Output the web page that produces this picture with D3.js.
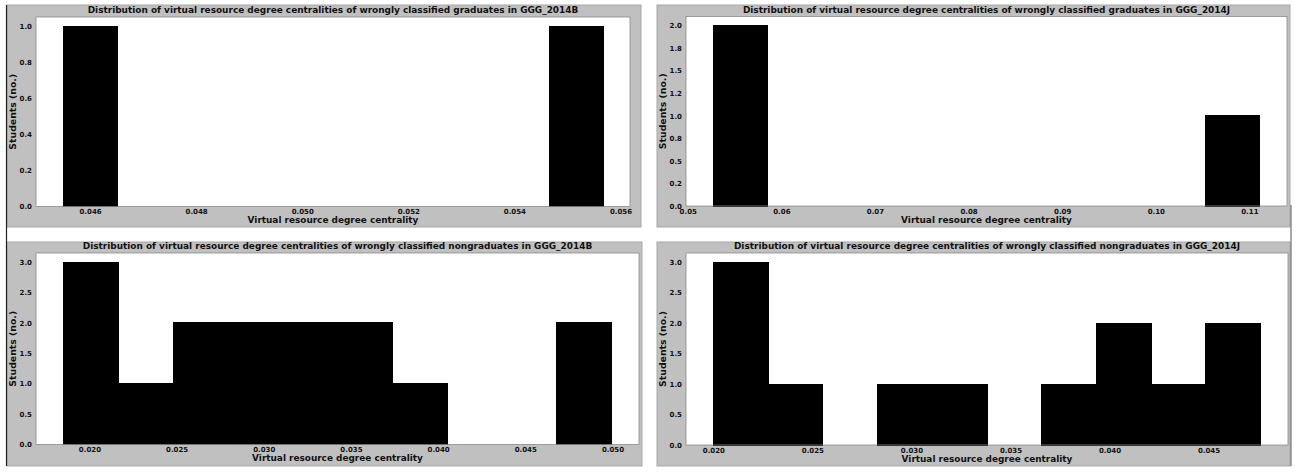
<!DOCTYPE html>
<html>
<head>
<meta charset="utf-8">
<script src="https://cdn.jsdelivr.net/npm/d3@7"></script>
<style>
html,body{margin:0;padding:0;background:#fff;}
svg{display:block;font-family:"DejaVu Sans",sans-serif;font-weight:bold;}
</style>
</head>
<body>
<svg id="chart" width="1296" height="472"></svg>
<script>
// ---------------- data ----------------
const titles = [
  "Distribution of virtual resource degree centralities of wrongly classified graduates in GGG_2014B",
  "Distribution of virtual resource degree centralities of wrongly classified graduates in GGG_2014J",
  "Distribution of virtual resource degree centralities of wrongly classified nongraduates in GGG_2014B",
  "Distribution of virtual resource degree centralities of wrongly classified nongraduates in GGG_2014J"
];
const xLabel = "Virtual resource degree centrality";
const yLabel = "Students (no.)";

// histogram ranges (min, max of values) and counts of the 10 bins
const gradB_range = [0.04549, 0.05567];
const gradB_counts = [1, 0, 0, 0, 0, 0, 0, 0, 0, 1];
const gradJ_range = [0.05273, 0.11110];
const gradJ_counts = [2, 0, 0, 0, 0, 0, 0, 0, 0, 1];
const nongradB_range = [0.018507, 0.04995];
const nongradB_counts = [3, 1, 2, 2, 2, 2, 1, 0, 0, 2];
const nongradJ_range = [0.0200, 0.04763];
const nongradJ_counts = [3, 1, 0, 1, 1, 0, 1, 2, 1, 2];

// tick values and labels
const gradB_xticks = [0.046, 0.048, 0.050, 0.052, 0.054, 0.056];
const gradB_xlabels = ["0.046", "0.048", "0.050", "0.052", "0.054", "0.056"];
const gradJ_xticks = [0.05, 0.06, 0.07, 0.08, 0.09, 0.10, 0.11];
const gradJ_xlabels = ["0.05", "0.06", "0.07", "0.08", "0.09", "0.10", "0.11"];
const nongradB_xticks = [0.020, 0.025, 0.030, 0.035, 0.040, 0.045, 0.050];
const nongradB_xlabels = ["0.020", "0.025", "0.030", "0.035", "0.040", "0.045", "0.050"];
const nongradJ_xticks = [0.020, 0.025, 0.030, 0.035, 0.040, 0.045];
const nongradJ_xlabels = ["0.020", "0.025", "0.030", "0.035", "0.040", "0.045"];

const gradB_yticks = [0, 0.2, 0.4, 0.6, 0.8, 1.0];
const gradB_ylabels = ["0.0", "0.2", "0.4", "0.6", "0.8", "1.0"];
const gradJ_yticks = [0, 0.25, 0.5, 0.75, 1.0, 1.25, 1.5, 1.75, 2.0];
const gradJ_ylabels = ["0.0", "0.2", "0.5", "0.8", "1.0", "1.2", "1.5", "1.8", "2.0"];
const nongrad_yticks = [0, 0.5, 1.0, 1.5, 2.0, 2.5, 3.0];
const nongrad_ylabels = ["0.0", "0.5", "1.0", "1.5", "2.0", "2.5", "3.0"];

// ---------------- layout ----------------
const layout = [
  {g: [7, 5, 634, 222],  p: [36, 17, 594, 189.5]},
  {g: [657, 5, 633, 222], p: [686, 16.5, 601, 189.5]},
  {g: [7, 242, 635, 224], p: [36, 253, 603, 191.5]},
  {g: [657, 242, 633, 224], p: [686, 253, 602, 192]}
];

const panels = [
  {title: titles[0], range: gradB_range, counts: gradB_counts, xt: gradB_xticks, xl: gradB_xlabels, yt: gradB_yticks, yl: gradB_ylabels},
  {title: titles[1], range: gradJ_range, counts: gradJ_counts, xt: gradJ_xticks, xl: gradJ_xlabels, yt: gradJ_yticks, yl: gradJ_ylabels},
  {title: titles[2], range: nongradB_range, counts: nongradB_counts, xt: nongradB_xticks, xl: nongradB_xlabels, yt: nongrad_yticks, yl: nongrad_ylabels},
  {title: titles[3], range: nongradJ_range, counts: nongradJ_counts, xt: nongradJ_xticks, xl: nongradJ_xlabels, yt: nongrad_yticks, yl: nongrad_ylabels}
];

const svg = d3.select("#chart");
const GRAY = "#c0c0c0";

// measure helper for font sizing
function fitSize(text, target, base) {
  const t = svg.append("text").attr("font-size", base).text(text);
  const w = t.node().getComputedTextLength();
  t.remove();
  return base * target / w;
}
const titleSize = fitSize(titles[0], 491, 8);
const xLabelSize = fitSize(xLabel, 171, 9);
const yLabelSize = fitSize(yLabel, 76, 9);
const tickSize = 7;

panels.forEach((pn, i) => {
  const L = layout[i];
  const [gx, gy, gw, gh] = L.g;
  const [px, py, pw, ph] = L.p;
  const g = svg.append("g");

  g.append("rect").attr("x", gx).attr("y", gy).attr("width", gw).attr("height", gh)
    .attr("fill", GRAY).attr("stroke", "#a8a8a8").attr("stroke-width", 1);

  const n = pn.counts.length;
  const lo = pn.range[0], hi = pn.range[1];
  const bw = (hi - lo) / n;
  const bins = pn.counts.map((c, k) => ({x0: lo + k * bw, x1: lo + (k + 1) * bw, c}));
  const span = hi - lo;
  const x = d3.scaleLinear().domain([lo - 0.05 * span, hi + 0.05 * span]).range([px, px + pw]);
  const maxC = d3.max(pn.counts);
  const y = d3.scaleLinear().domain([0, maxC * 1.05]).range([py + ph, py]);

  g.append("rect").attr("x", px).attr("y", py).attr("width", pw).attr("height", ph)
    .attr("fill", "#fff");

  g.selectAll("rect.bar").data(bins.filter(b => b.c > 0)).join("rect")
    .attr("class", "bar")
    .attr("x", d => x(d.x0)).attr("width", d => x(d.x1) - x(d.x0))
    .attr("y", d => y(d.c)).attr("height", d => y(0) - y(d.c))
    .attr("fill", "#000").attr("stroke", "#000").attr("stroke-width", 1)
    .attr("shape-rendering", "crispEdges");

  g.append("rect").attr("x", px).attr("y", py).attr("width", pw).attr("height", ph)
    .attr("fill", "none").attr("stroke", "#8a8a8a").attr("stroke-width", 0.8);

  // x axis
  const xAxis = d3.axisBottom(x).tickValues(pn.xt).tickFormat((d, k) => pn.xl[k]).tickSize(0).tickPadding(3);
  const xa = g.append("g").attr("transform", `translate(0,${py + ph})`).call(xAxis);
  xa.select(".domain").remove();
  xa.selectAll("text").attr("font-size", tickSize).attr("font-family", "DejaVu Sans").attr("font-weight", "bold").attr("fill", "#111");

  // y axis
  const yAxis = d3.axisLeft(y).tickValues(pn.yt).tickFormat((d, k) => pn.yl[k]).tickSize(0).tickPadding(4);
  const ya = g.append("g").attr("transform", `translate(${px},0)`).call(yAxis);
  ya.select(".domain").remove();
  ya.selectAll("text").attr("font-size", tickSize).attr("font-family", "DejaVu Sans").attr("font-weight", "bold").attr("fill", "#111");

  // title
  g.append("text").attr("x", px + pw / 2).attr("y", py - 6.2)
    .attr("text-anchor", "middle").attr("dominant-baseline", "middle")
    .attr("font-size", titleSize).attr("fill", "#111").text(pn.title);

  // x label
  g.append("text").attr("x", px + pw / 2).attr("y", py + ph + 14.3)
    .attr("text-anchor", "middle").attr("dominant-baseline", "middle")
    .attr("font-size", xLabelSize).attr("fill", "#111").text(xLabel);

  // y label
  g.append("text").attr("transform", `translate(${gx + 6.5},${py + ph / 2}) rotate(-90)`)
    .attr("text-anchor", "middle").attr("dominant-baseline", "middle")
    .attr("font-size", yLabelSize).attr("fill", "#111").text(yLabel);
});

// scan border lines
svg.append("line").attr("x1", 6.5).attr("x2", 6.5).attr("y1", 5).attr("y2", 466)
  .attr("stroke", "#222").attr("stroke-width", 1.2);
svg.append("line").attr("x1", 1291).attr("x2", 1291).attr("y1", 205).attr("y2", 466)
  .attr("stroke", "#555").attr("stroke-width", 1);
</script>
</body>
</html>
